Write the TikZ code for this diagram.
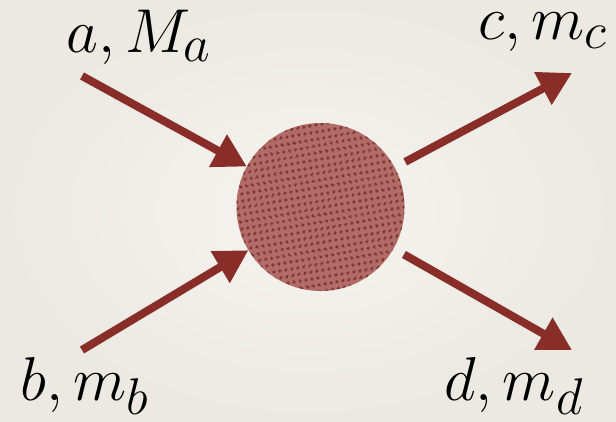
\documentclass[tikz,border=0pt]{standalone}
\usepackage{graphicx}
\usetikzlibrary{arrows.meta,patterns.meta}
\definecolor{arrowred}{RGB}{137,45,40}
\definecolor{blobfill}{RGB}{178,108,103}
\definecolor{blobdot}{RGB}{130,55,50}
\definecolor{bginner}{RGB}{246,244,240}
\definecolor{bgouter}{RGB}{236,233,227}
\newcommand{\biglbl}[1]{\scalebox{2.49}{\Huge #1}}
\tikzset{
  particle/.style={line width=8pt, draw=arrowred, -{Triangle[length=33pt,width=35pt]}},
  lbl/.style={anchor=base, inner sep=0pt},
}
\begin{document}
\begin{tikzpicture}[x=1pt,y=-1pt]
\useasboundingbox (0,0) rectangle (616,421);
\shade[inner color=bginner, outer color=bgouter] (0,0) rectangle (616,421);
\node[circle, minimum size=168pt, inner sep=0pt, outer sep=0pt, fill=blobfill] (blob) at (320.5,207) {};
\fill[pattern={Dots[radius=2pt,distance=6.5pt,angle=10]}, pattern color=blobdot] (blob.center) circle[radius=84pt];
\coordinate (ta) at (82,76);
\coordinate (tb) at (82,350);
\coordinate (hc) at (572,73);
\coordinate (hd) at (572,350);
\draw[particle] (ta) -- (blob);
\draw[particle] (tb) -- (blob);
\draw[particle, shorten <=12pt] (blob) -- (hc);
\draw[particle, shorten <=12pt] (blob) -- (hd);
\node[lbl] (la) at (139,52) {\biglbl{$a, M_a$}};
\node[lbl] (lb) at (85,400) {\biglbl{$b, m_b$}};
\node[lbl] (lc) at (543,39) {\biglbl{$c, m_c$}};
\node[lbl] (ld) at (514,400) {\biglbl{$d, m_d$}};
\end{tikzpicture}
\end{document}
